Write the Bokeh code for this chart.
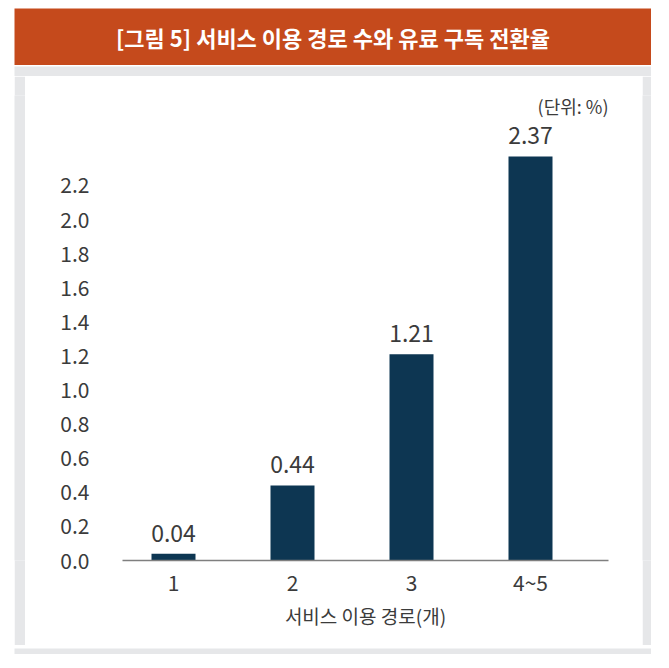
from bokeh.plotting import figure
from bokeh.models import Range1d, FixedTicker, Label, ColumnDataSource, Spacer
from bokeh.layouts import column, row
from bokeh.core.properties import value
from bokeh.embed import file_html
from bokeh.resources import INLINE

# ---- data ----
categories = ["1", "2", "3", "4~5"]
rates = [0.04, 0.44, 1.21, 2.37]
rate_labels = ["0.04", "0.44", "1.21", "2.37"]
y_ticks = [0.0, 0.2, 0.4, 0.6, 0.8, 1.0, 1.2, 1.4, 1.6, 1.8, 2.0, 2.2]
title_text = "[그림 5] 서비스 이용 경로 수와 유료 구독 전환율"
x_title = "서비스 이용 경로(개)"
unit_text = "(단위: %)"

FONT = "Noto Sans CJK KR"
TXT = "#3b3b3b"
BAR = "#0d3652"
ORANGE = "#c54a1c"
GREY = "#e6e7e9"


def block(w, h, color):
    f = figure(width=w, height=h, output_backend="svg", toolbar_location=None,
               x_range=Range1d(0, 1), y_range=Range1d(0, 1),
               x_axis_type=None, y_axis_type=None,
               min_border=0, min_border_left=0, min_border_right=0,
               min_border_top=0, min_border_bottom=0)
    f.background_fill_color = color
    f.border_fill_color = color
    f.outline_line_color = None
    f.grid.visible = False
    return f


# ---- banner ----
banner = block(637, 57, ORANGE)
banner.add_layout(Label(x=0.5, y=0.5, text=title_text, text_align="center",
                        text_baseline="middle", text_font=FONT,
                        text_font_size="22px", text_font_style="bold",
                        text_color="white"))

# ---- main chart (white panel) ----
xpos = list(range(1, len(categories) + 1))
W, H = 617, 569
ML, MR, MT, MB = 97, 34, 19, 85
frame_w = W - ML - MR
frame_h = H - MT - MB
px_per_cat = 119.0
px_per_unit = 170.5
x0 = 1 - 51.0 / px_per_cat
x1 = x0 + frame_w / px_per_cat
y1 = frame_h / px_per_unit

p = figure(width=W, height=H, output_backend="svg", toolbar_location=None,
           x_range=Range1d(x0, x1), y_range=Range1d(0, y1),
           min_border_left=ML, min_border_right=MR,
           min_border_top=MT, min_border_bottom=MB)
p.background_fill_color = "white"
p.border_fill_color = "white"
p.outline_line_color = None
p.grid.visible = False

src = ColumnDataSource(dict(x=xpos, top=rates, lab=rate_labels))
p.vbar(x="x", top="top", bottom=0, width=44.0 / px_per_cat, source=src,
       fill_color=BAR, line_color=None)
p.text(x="x", y="top", text="lab", source=src, text_align="center",
       text_baseline="bottom", y_offset=-12, text_font=value(FONT),
       text_font_size="23px", text_color=TXT)

p.add_layout(Label(x=x1, y=(455.0 / px_per_unit), text=unit_text,
                   text_align="right", text_baseline="middle",
                   text_font=FONT, text_font_size="18px", text_color=TXT))

ya = p.yaxis[0]
ya.ticker = FixedTicker(ticks=y_ticks)
ya.major_label_overrides = {t: f"{t:.1f}" for t in y_ticks}
ya.axis_line_color = None
ya.major_tick_line_color = None
ya.minor_tick_line_color = None
ya.major_tick_out = 0
ya.major_tick_in = 0
ya.major_label_standoff = 33
ya.major_label_text_font = FONT
ya.major_label_text_font_size = "21px"
ya.major_label_text_color = TXT

xa = p.xaxis[0]
xa.ticker = FixedTicker(ticks=xpos)
xa.major_label_overrides = {i: c for i, c in zip(xpos, categories)}
xa.axis_line_color = "#7f7f7f"
xa.axis_line_width = 1.3
xa.major_tick_line_color = None
xa.minor_tick_line_color = None
xa.major_tick_out = 0
xa.major_tick_in = 0
xa.major_label_standoff = 6
xa.major_label_text_font = FONT
xa.major_label_text_font_size = "21px"
xa.major_label_text_color = TXT
xa.axis_label = x_title
xa.axis_label_text_font = FONT
xa.axis_label_text_font_size = "19px"
xa.axis_label_text_font_style = "normal"
xa.axis_label_text_color = TXT
xa.axis_label_standoff = 2

# ---- grey frame around the white panel ----
frame_top = block(637, 11, GREY)
frame_left = block(11, 569, GREY)
frame_right = block(9, 569, GREY)
frame_bottom = block(637, 9, GREY)

card = column(banner, frame_top, row(frame_left, p, frame_right, spacing=0),
              frame_bottom, spacing=0)
page = column(Spacer(height=8), row(Spacer(width=14), card, spacing=0), spacing=0)

open("out.html", "w").write(file_html(page, INLINE))
